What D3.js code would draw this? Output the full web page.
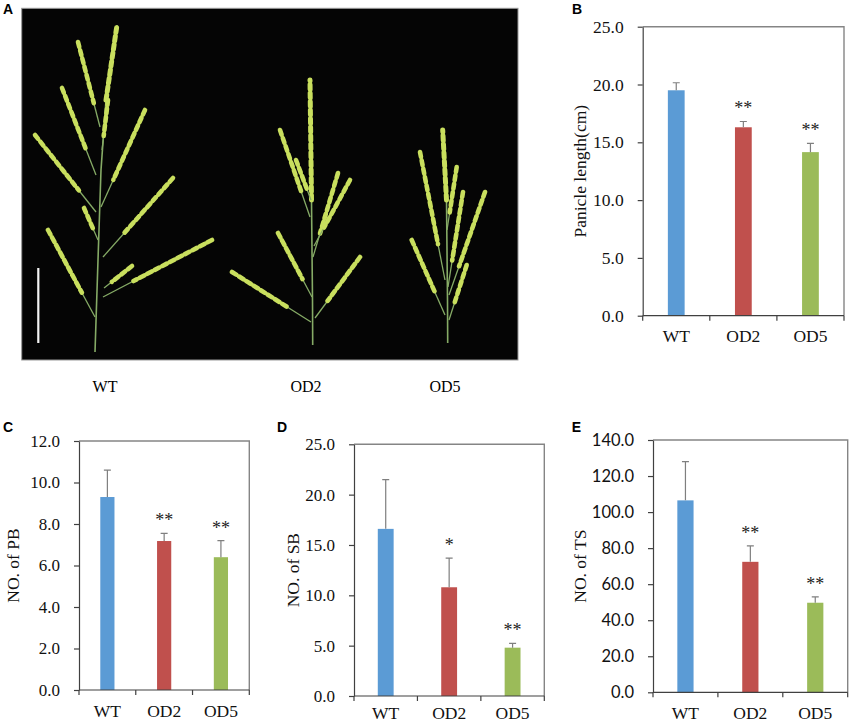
<!DOCTYPE html>
<html>
<head>
<meta charset="utf-8">
<script src="https://cdn.jsdelivr.net/npm/d3@7"></script>
<style>
  body { margin: 0; background: #fff; }
  svg { display: block; }
  .serif { font-family: "Liberation Serif", "Times New Roman", serif; }
  .tag { font-family: "Liberation Sans", Arial, sans-serif; font-weight: bold; font-size: 14px; }
</style>
</head>
<body>
<div id="fig"></div>
<script>
// genotypes and their bar colours
const genotypes = ["WT", "OD2", "OD5"];
const barColors = ["#5b9bd5", "#c0504d", "#9bbb59"];

// B: panicle length (cm)
const panicleLength = [19.5, 16.3, 14.15];
const panicleLengthErr = [0.65, 0.5, 0.75];
const panicleStars = ["", "**", "**"];
const panicleTicks = [0, 5, 10, 15, 20, 25];

// C: number of primary branches
const pbCount = [9.3, 7.18, 6.4];
const pbErr = [1.3, 0.37, 0.8];
const pbStars = ["", "**", "**"];
const pbTicks = [0, 2, 4, 6, 8, 10, 12];

// D: number of secondary branches
const sbCount = [16.6, 10.8, 4.8];
const sbErr = [4.9, 2.9, 0.43];
const sbStars = ["", "*", "**"];
const sbTicks = [0, 5, 10, 15, 20, 25];

// E: total spikelets
const tsCount = [106.5, 72.4, 49.7];
const tsErr = [21.5, 8.8, 3.3];
const tsStars = ["", "**", "**"];
const tsTicks = [0, 20, 40, 60, 80, 100, 120, 140];

const width = 851, height = 725;

const svg = d3.select("#fig").append("svg")
    .attr("width", width)
    .attr("height", height);

// ---- panel A: photo of panicles (drawn as a sketch) ----
const photo = { x: 21.7, y: 8.3, w: 496.3, h: 351.7 };

svg.append("rect")
    .attr("x", photo.x).attr("y", photo.y)
    .attr("width", photo.w).attr("height", photo.h)
    .attr("fill", "#050505")
    .attr("stroke", "#9a9a9a")
    .attr("stroke-width", 1);

// stem polyline + branches [x1, y1, x2, y2] for each plant
const plants = [
    { name: "WT", labelX: 105,
      stem: [[95, 352], [98, 260], [101, 170], [106, 100], [117, 25]],
      branches: [
          [100, 127, 78, 42], [96, 175, 62, 88], [96, 212, 35, 135], [95, 317, 48, 230],
          [101, 207, 145, 110], [103, 257, 173, 178], [103, 297, 212, 240], [104, 288, 132, 266],
          [98, 240, 84, 208], [102, 150, 108, 100]
      ] },
    { name: "OD2", labelX: 306,
      stem: [[312.7, 345], [312.5, 300], [311.5, 200], [310, 80]],
      branches: [
          [310, 217, 280, 130], [312, 297, 278, 233], [311, 322, 232, 272],
          [313, 257, 338, 173], [314, 246, 350, 180], [315, 318, 360, 257], [311, 200, 296, 160]
      ] },
    { name: "OD5", labelX: 445,
      stem: [[447.7, 343], [447.5, 300], [446.5, 200], [442.7, 130]],
      branches: [
          [445, 280, 420, 152], [445, 315, 411.7, 240], [447, 230, 456.7, 167],
          [448, 287, 463, 192], [449, 295, 485, 192], [449, 320, 466.7, 265]
      ] }
];

const stemLine = d3.line();
plants.forEach(p => {
    const g = svg.append("g").attr("class", "plant");
    g.append("path")
        .attr("d", stemLine(p.stem))
        .attr("fill", "none")
        .attr("stroke", "#86ab66")
        .attr("stroke-width", 1.6);
    // spikelets on the top of the main axis
    const tip = p.stem.slice(-2);
    g.append("path")
        .attr("d", stemLine(tip))
        .attr("fill", "none")
        .attr("stroke", "#c9df5e")
        .attr("stroke-width", 5)
        .attr("stroke-linecap", "round")
        .attr("stroke-dasharray", "5,3.5");
    p.branches.forEach(b => {
        const [x1, y1, x2, y2] = b;
        g.append("line")
            .attr("x1", x1).attr("y1", y1).attr("x2", x2).attr("y2", y2)
            .attr("stroke", "#86ab66")
            .attr("stroke-width", 1.3);
        const sx = x1 + (x2 - x1) * 0.28, sy = y1 + (y2 - y1) * 0.28;
        g.append("line")
            .attr("x1", x2).attr("y1", y2).attr("x2", sx).attr("y2", sy)
            .attr("stroke", "#c9df5e")
            .attr("stroke-width", 4.6)
            .attr("stroke-linecap", "round")
            .attr("stroke-dasharray", "5,3.5");
    });
    svg.append("text")
        .attr("class", "serif")
        .attr("x", p.labelX).attr("y", 392)
        .attr("text-anchor", "middle")
        .style("font-size", "16px")
        .text(p.name);
});

// scale bar
svg.append("line")
    .attr("x1", 38.3).attr("x2", 38.3)
    .attr("y1", 268).attr("y2", 343)
    .attr("stroke", "#f4f4f4")
    .attr("stroke-width", 2.2);

// ---- bar panels ----
const panels = [
    { tag: "B", tagX: 572, tagY: 13.5, left: 642.7, right: 844, top: 26.7, bottom: 315.7,
      values: panicleLength, errs: panicleLengthErr, stars: panicleStars, ticks: panicleTicks,
      title: "Panicle length(cm)", titleX: 580, tickFont: "serif", fs: 17.5, xPad: 14 },
    { tag: "C", tagX: 3, tagY: 431.7, left: 79, right: 249.3, top: 441, bottom: 690,
      values: pbCount, errs: pbErr, stars: pbStars, ticks: pbTicks,
      title: "NO. of PB", titleX: 13, tickFont: "serif", fs: 17, xPad: 14.5 },
    { tag: "D", tagX: 277, tagY: 431.7, left: 354, right: 544.3, top: 444.3, bottom: 696,
      values: sbCount, errs: sbErr, stars: sbStars, ticks: sbTicks,
      title: "NO. of SB", titleX: 293, tickFont: "serif", fs: 17, xPad: 10.5 },
    { tag: "E", tagX: 571.7, tagY: 431.7, left: 653, right: 847.7, top: 440, bottom: 692.3,
      values: tsCount, errs: tsErr, stars: tsStars, ticks: tsTicks,
      title: "NO. of TS", titleX: 580, tickFont: "sans", fs: 16, xPad: 14 }
];

svg.append("text").attr("class", "tag").attr("x", 3).attr("y", 13.5).text("A");

panels.forEach(drawPanel);

function drawPanel(cfg) {
    const x = d3.scaleBand()
        .domain(genotypes)
        .range([cfg.left, cfg.right])
        .paddingInner(0.75)
        .paddingOuter(0.375);
    const y = d3.scaleLinear()
        .domain([0, d3.max(cfg.ticks)])
        .range([cfg.bottom, cfg.top]);

    const g = svg.append("g").attr("class", "panel");

    // grey frame on top and right
    g.append("path")
        .attr("d", `M${cfg.left},${y(d3.max(cfg.ticks))}H${cfg.right}V${cfg.bottom}`)
        .attr("fill", "none")
        .attr("stroke", "#858585")
        .attr("stroke-width", 1.4);

    // bars
    g.selectAll(".bar")
        .data(cfg.values)
        .enter().append("rect")
        .attr("class", "bar")
        .attr("x", (d, i) => x(genotypes[i]))
        .attr("y", d => y(d))
        .attr("width", x.bandwidth())
        .attr("height", d => y(0) - y(d))
        .attr("fill", (d, i) => barColors[i]);

    // upper error bars
    const cx = i => x(genotypes[i]) + x.bandwidth() / 2;
    cfg.values.forEach((v, i) => {
        const yTop = y(v + cfg.errs[i]);
        g.append("path")
            .attr("d", `M${cx(i)},${y(v)}V${yTop}M${cx(i) - 3.5},${yTop}H${cx(i) + 3.5}`)
            .attr("fill", "none")
            .attr("stroke", "#7f7f7f")
            .attr("stroke-width", 1.2);
        if (cfg.stars[i]) {
            g.append("text")
                .attr("class", "serif")
                .attr("x", cx(i))
                .attr("y", yTop - 7)
                .attr("text-anchor", "middle")
                .style("font-size", "18px")
                .style("fill", "#222")
                .text(cfg.stars[i]);
        }
    });

    // y axis
    const yAxis = g.append("g")
        .attr("transform", `translate(${cfg.left},0)`)
        .call(d3.axisLeft(y)
            .tickValues(cfg.ticks)
            .tickFormat(d3.format(".1f"))
            .tickSize(5)
            .tickSizeOuter(0)
            .tickPadding(14));
    yAxis.selectAll("path, line").attr("stroke", "#404040").attr("stroke-width", 1.2);
    yAxis.selectAll("text")
        .attr("fill", "#111")
        .style("font-family", cfg.tickFont === "serif"
            ? '"Liberation Serif", "Times New Roman", serif'
            : 'Lato, "Liberation Sans", sans-serif')
        .style("font-size", (cfg.tickFont === "serif" ? cfg.fs : cfg.fs + 0.5) + "px");

    // x axis: line with ticks between categories, labels centred on bars
    const step = x.step();
    g.append("path")
        .attr("d", `M${cfg.left},${cfg.bottom}H${cfg.right}` +
            d3.range(genotypes.length + 1)
                .map(i => `M${cfg.left + i * step},${cfg.bottom}v5`).join(""))
        .attr("fill", "none")
        .attr("stroke", "#404040")
        .attr("stroke-width", 1.2);

    const xAxis = g.append("g")
        .attr("transform", `translate(0,${cfg.bottom})`)
        .call(d3.axisBottom(x).tickSize(0).tickPadding(cfg.xPad));
    xAxis.select(".domain").remove();
    xAxis.selectAll("text")
        .attr("fill", "#111")
        .style("font-family", '"Liberation Serif", "Times New Roman", serif')
        .style("font-size", "17.5px");

    // axis title
    const midY = (cfg.top + cfg.bottom) / 2;
    g.append("text")
        .attr("class", "serif")
        .attr("transform", `translate(${cfg.titleX},${midY}) rotate(-90)`)
        .attr("text-anchor", "middle")
        .attr("dy", "0.35em")
        .style("font-size", "17.5px")
        .style("fill", "#111")
        .text(cfg.title);

    // panel letter
    svg.append("text")
        .attr("class", "tag")
        .attr("x", cfg.tagX)
        .attr("y", cfg.tagY)
        .text(cfg.tag);
}
</script>
</body>
</html>
